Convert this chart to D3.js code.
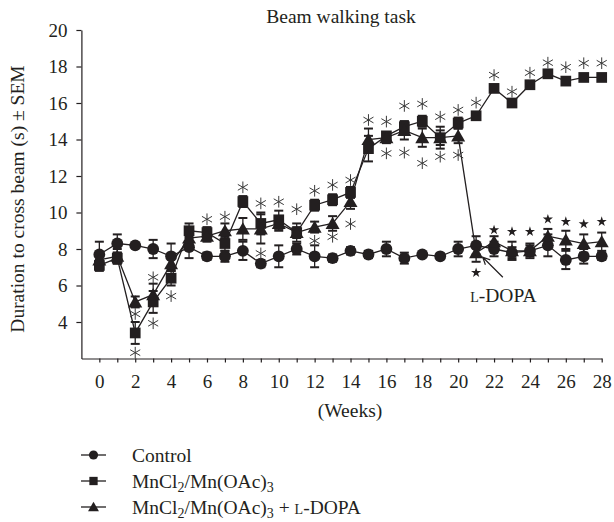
<!DOCTYPE html>
<html>
<head>
<meta charset="utf-8">
<script src="https://cdn.jsdelivr.net/npm/d3@7/dist/d3.min.js"></script>
<style>
  body { margin: 0; background: #fff; }
  text { font-family: "Liberation Serif", "Times New Roman", serif; fill: #231f20; }
</style>
</head>
<body>
<svg id="chart" width="614" height="522"></svg>
<script>
// data (weeks 0..28)
const weeks = d3.range(0, 29);
const controlMean = [7.7, 8.3, 8.2, 8.0, 7.6, 8.1, 7.6, 7.6, 7.9, 7.2, 7.6, 8.0, 7.6, 7.5, 7.9, 7.7, 8.0, 7.5, 7.7, 7.6, 8.0, 8.2, 8.0, 7.8, 7.9, 8.2, 7.4, 7.6, 7.6];
const controlSem  = [0.7, 0.5, 0.1, 0.5, 0.7, 0.6, 0.2, 0.3, 0.5, 0.2, 0.6, 0.3, 0.6, 0.2, 0.2, 0.2, 0.4, 0.3, 0.1, 0.1, 0.4, 0.5, 0.4, 0.3, 0.3, 0.6, 0.5, 0.4, 0.2];
const mnMean = [7.1, 7.5, 3.4, 5.1, 6.4, 9.0, 8.9, 8.3, 10.6, 9.4, 9.6, 8.9, 10.4, 10.7, 11.1, 13.5, 14.2, 14.7, 15.0, 14.1, 14.9, 15.3, 16.8, 16.0, 17.0, 17.6, 17.2, 17.4, 17.4];
const mnSem  = [0.3, 0.3, 0.6, 0.6, 0.4, 0.4, 0.3, 0.4, 0.3, 0.6, 0.5, 0.5, 0.3, 0.3, 0.3, 0.7, 0.2, 0.3, 0.3, 0.4, 0.3, 0.1, 0.1, 0.1, 0.1, 0.1, 0.1, 0.1, 0.1];
const ldopaMean = [7.4, 7.6, 5.1, 5.5, 7.2, 8.6, 8.7, 9.0, 9.1, 9.1, 9.4, 8.9, 9.2, 9.4, 10.6, 14.0, 14.1, 14.5, 14.1, 14.1, 14.2, 7.8, 8.4, 7.9, 7.9, 8.7, 8.5, 8.3, 8.4];
const ldopaSem  = [0.4, 0.4, 0.3, 0.6, 0.4, 0.3, 0.3, 0.4, 0.6, 0.8, 0.4, 0.3, 0.3, 0.4, 0.4, 0.6, 0.3, 0.5, 0.5, 0.6, 0.4, 0.5, 0.3, 0.5, 0.4, 0.4, 0.5, 0.5, 0.5];

// significance marks: [week, level on the y scale]
const asterisks = [
  [2, 2.32], [2, 4.44], [3, 6.45], [3, 3.93], [4, 5.42], [6, 9.63], [7, 9.77], [8, 11.38],
  [9, 10.5], [9, 7.76], [10, 10.59], [11, 10.18], [12, 11.19], [12, 8.45], [13, 11.51], [13, 8.67],
  [14, 11.78], [14, 9.37], [15, 15.07], [16, 14.98], [16, 13.24], [17, 15.84], [17, 13.28],
  [18, 15.95], [18, 12.7], [19, 15.25], [19, 13.06], [20, 15.62], [20, 13.15], [21, 16.02],
  [22, 17.53], [23, 16.62], [24, 17.66], [25, 18.21], [26, 17.96], [27, 18.18], [28, 18.18]
];
const stars = [[21, 6.7], [22, 9.04], [23, 8.95], [24, 8.95], [25, 9.63], [26, 9.5], [27, 9.37], [28, 9.5]];

const yTicks = [4, 6, 8, 10, 12, 14, 16, 18, 20];

const series = [
  { name: "control", mean: controlMean, sem: controlSem, symbol: d3.symbolCircle, size: 110 },
  { name: "mn", mean: mnMean, sem: mnSem, symbol: d3.symbolSquare, size: 115 },
  { name: "ldopa", mean: ldopaMean, sem: ldopaSem, symbol: d3.symbolTriangle, size: 85 }
];

const serif = '"Liberation Serif", "Times New Roman", serif';
const svg = d3.select("#chart");
const x = d3.scaleLinear().domain([-1, 28]).range([81.4, 601.7]);
const y = d3.scaleLinear().domain([2, 20]).range([358.5, 30]);

// axes
const xAxis = svg.append("g")
  .attr("transform", "translate(0,358.5)")
  .call(d3.axisBottom(x).tickValues(weeks).tickSize(4).tickSizeOuter(0).tickPadding(12)
    .tickFormat(d => d % 2 ? "" : d));
const yAxis = svg.append("g")
  .attr("transform", "translate(81.4,0)")
  .call(d3.axisLeft(y).tickValues(yTicks).tickSize(5).tickSizeOuter(0).tickPadding(9));
[xAxis, yAxis].forEach(g => {
  g.attr("font-family", serif).attr("font-size", 19);
  g.selectAll("path, line").attr("stroke", "#231f20").attr("stroke-width", 1.2);
  g.selectAll("text").attr("fill", "#231f20").style("font-family", serif);
});

// titles
svg.append("text").attr("x", 341).attr("y", 23).attr("text-anchor", "middle")
  .attr("font-size", 19.5).text("Beam walking task");
svg.append("text").attr("x", 350).attr("y", 417).attr("text-anchor", "middle")
  .attr("font-size", 19.5).text("(Weeks)");
svg.append("text").attr("transform", "translate(24,199) rotate(-90)").attr("text-anchor", "middle")
  .attr("font-size", 19.5).text("Duration to cross beam (s) ± SEM");

// lines
const line = d3.line().x((d, i) => x(weeks[i])).y(d => y(d));
series.forEach(s => {
  svg.append("path").datum(s.mean).attr("d", line)
    .attr("fill", "none").attr("stroke", "#231f20").attr("stroke-width", 1.3);
});

// error bars
series.forEach(s => {
  const g = svg.append("g").attr("stroke", "#231f20");
  const rows = weeks.map(w => ({ w, m: s.mean[w], e: s.sem[w] })).filter(d => d.e > 0.15);
  g.selectAll("line.v").data(rows).enter().append("line")
    .attr("x1", d => x(d.w)).attr("x2", d => x(d.w))
    .attr("y1", d => y(d.m - d.e)).attr("y2", d => y(d.m + d.e)).attr("stroke-width", 1.3);
  ["lo", "hi"].forEach(k => {
    g.selectAll("line." + k).data(rows).enter().append("line")
      .attr("x1", d => x(d.w) - 4.5).attr("x2", d => x(d.w) + 4.5)
      .attr("y1", d => y(k === "lo" ? d.m - d.e : d.m + d.e))
      .attr("y2", d => y(k === "lo" ? d.m - d.e : d.m + d.e))
      .attr("stroke-width", 2);
  });
});

// markers
series.forEach(s => {
  svg.append("g").selectAll("path").data(weeks).enter().append("path")
    .attr("d", d3.symbol(s.symbol, s.size))
    .attr("transform", w => `translate(${x(w)},${y(s.mean[w]) + (s.symbol === d3.symbolTriangle ? 1.5 : 0)})`)
    .attr("fill", "#231f20");
});

// significance marks
svg.append("g").selectAll("path").data(asterisks).enter().append("path")
  .attr("d", d3.symbol(d3.symbolAsterisk, 95))
  .attr("transform", d => `translate(${x(d[0])},${y(d[1])})`)
  .attr("fill", "none").attr("stroke", "#3a3a3a").attr("stroke-width", 1);
svg.append("g").selectAll("path").data(stars).enter().append("path")
  .attr("d", d3.symbol(d3.symbolStar, 32))
  .attr("transform", d => `translate(${x(d[0])},${y(d[1])})`)
  .attr("fill", "#231f20");

// L-DOPA arrow annotation
const head = [x(21.37), y(7.55)], tail = [x(22.49), y(6.45)];
const ang = Math.atan2(head[1] - tail[1], head[0] - tail[0]);
const hl = 8, ha = 0.45;
svg.append("path")
  .attr("d", `M${tail[0]},${tail[1]}L${head[0]},${head[1]}` +
    `M${head[0] - hl * Math.cos(ang - ha)},${head[1] - hl * Math.sin(ang - ha)}L${head[0]},${head[1]}` +
    `L${head[0] - hl * Math.cos(ang + ha)},${head[1] - hl * Math.sin(ang + ha)}`)
  .attr("fill", "none").attr("stroke", "#231f20").attr("stroke-width", 1.2);
svg.append("text").attr("x", x(20.67)).attr("y", y(5.11)).attr("font-size", 19.5)
  .style("font-variant", "small-caps").text("l-DOPA");

// legend
const legend = svg.append("g");
const legendRows = [455, 481, 507];
series.forEach((s, i) => {
  const ly = legendRows[i];
  legend.append("line").attr("x1", 81).attr("x2", 106).attr("y1", ly).attr("y2", ly)
    .attr("stroke", "#231f20").attr("stroke-width", 1.3);
  legend.append("path").attr("d", d3.symbol(s.symbol, s.size * 0.6))
    .attr("transform", `translate(93.5,${ly + (s.symbol === d3.symbolTriangle ? 1 : 0)})`)
    .attr("fill", "#231f20");
});
legend.append("text").attr("x", 132).attr("y", 462).attr("font-size", 19.5).text("Control");
const mnLabel = (ly, extra) => {
  const tx = legend.append("text").attr("x", 132).attr("y", ly).attr("font-size", 19.5);
  tx.append("tspan").text("MnCl");
  tx.append("tspan").attr("font-size", 14).attr("dy", 4).text("2");
  tx.append("tspan").attr("dy", -4).text("/Mn(OAc)");
  tx.append("tspan").attr("font-size", 14).attr("dy", 4).text("3");
  if (extra) {
    tx.append("tspan").attr("dy", -4).text(" + ");
    tx.append("tspan").style("font-variant", "small-caps").text("l-DOPA");
  }
};
mnLabel(488, false);
mnLabel(514, true);
</script>
</body>
</html>
